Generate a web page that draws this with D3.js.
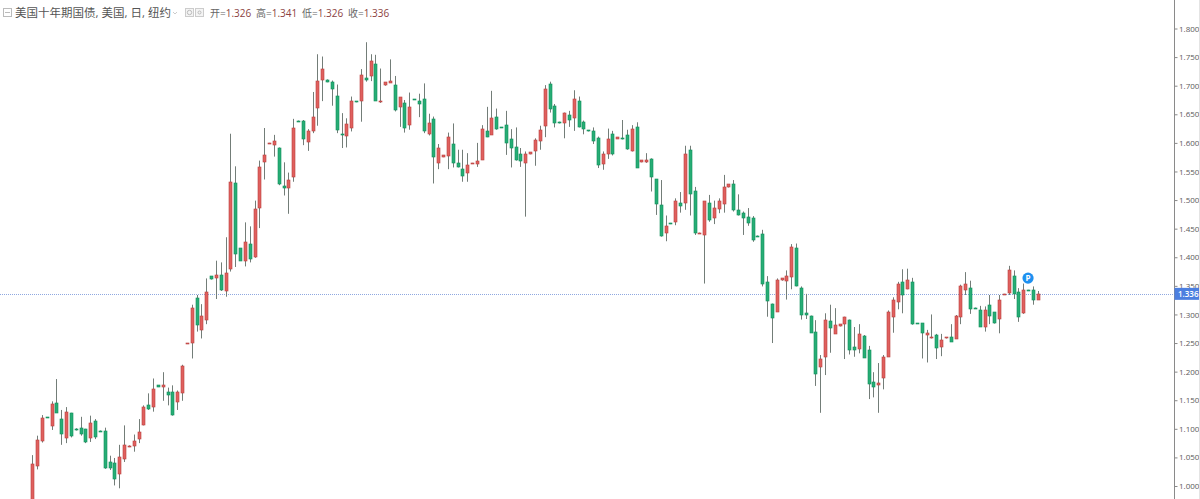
<!DOCTYPE html>
<html><head><meta charset="utf-8">
<style>html,body{margin:0;padding:0;background:#fff;overflow:hidden}svg{display:block}
text{font-family:"Open Sans","Noto Sans CJK SC",sans-serif}</style>
<script src="https://cdn.jsdelivr.net/npm/d3@7/dist/d3.min.js"></script></head><body>
<script>
const title = "美国十年期国债, 美国, 日, 纽约";
const ohlcLabels = ["开=", "高=", "低=", "收="];
const ohlcValues = ["1.326", "1.341", "1.326", "1.336"];
const tickLabels = ["1.000","1.050","1.100","1.150","1.200","1.250","1.300","1.350","1.400","1.450","1.500","1.550","1.600","1.650","1.700","1.750","1.800"];
const lastPrice = 1.336;
const opens = [
0.960,1.036,1.078,1.120,1.106,1.146,1.117,1.084,1.127,1.100,
1.101,1.099,1.084,1.113,1.097,1.096,1.042,1.040,1.022,1.047,
1.068,1.070,1.082,1.107,1.142,1.137,1.176,1.172,1.164,1.164,
1.146,1.162,1.250,1.250,1.329,1.273,1.290,1.367,1.363,1.369,
1.342,1.379,1.530,1.416,1.394,1.424,1.401,1.486,1.565,1.598,
1.597,1.591,1.525,1.521,1.541,1.639,1.638,1.602,1.621,1.660,
1.710,1.710,1.707,1.682,1.616,1.612,1.626,1.673,1.672,1.714,
1.717,1.738,1.671,1.700,1.706,1.701,1.663,1.670,1.632,1.676,
1.674,1.676,1.614,1.641,1.564,1.575,1.578,1.598,1.565,1.555,
1.547,1.564,1.563,1.570,1.621,1.614,1.646,1.627,1.631,1.606,
1.592,1.581,1.565,1.580,1.586,1.602,1.630,1.703,1.665,1.636,
1.635,1.648,1.642,1.673,1.636,1.622,1.621,1.608,1.564,1.581,
1.615,1.607,1.609,1.614,1.586,1.628,1.566,1.567,1.571,1.536,
1.491,1.441,1.460,1.462,1.494,1.495,1.588,1.515,1.442,1.439,
1.494,1.468,1.485,1.494,1.522,1.528,1.483,1.477,1.470,1.469,
1.438,1.440,1.356,1.319,1.305,1.359,1.360,1.365,1.416,1.347,
1.302,1.298,1.270,1.208,1.226,1.288,1.266,1.279,1.282,1.290,
1.243,1.239,1.263,1.237,1.181,1.176,1.190,1.226,1.296,1.322,
1.356,1.345,1.356,1.285,1.285,1.263,1.259,1.264,1.242,1.258,
1.260,1.257,1.295,1.343,1.347,1.312,1.308,1.279,1.317,1.304,
1.292,1.334,1.336,1.368,1.339,1.303,1.343,1.342,1.326];
const closes = [
1.039,1.081,1.119,1.119,1.144,1.128,1.090,1.129,1.086,1.098,
1.091,1.076,1.110,1.085,1.096,1.031,1.032,1.012,1.051,1.071,
1.070,1.078,1.094,1.139,1.135,1.169,1.173,1.176,1.159,1.123,
1.164,1.210,1.250,1.311,1.282,1.297,1.339,1.362,1.369,1.342,
1.373,1.531,1.406,1.394,1.427,1.397,1.485,1.557,1.578,1.600,
1.604,1.528,1.521,1.535,1.626,1.638,1.607,1.621,1.646,1.708,
1.730,1.707,1.694,1.623,1.614,1.633,1.674,1.672,1.718,1.710,
1.744,1.674,1.673,1.706,1.709,1.658,1.680,1.626,1.663,1.675,
1.669,1.620,1.634,1.575,1.591,1.578,1.611,1.565,1.558,1.542,
1.561,1.565,1.568,1.625,1.611,1.643,1.625,1.626,1.600,1.591,
1.570,1.569,1.580,1.584,1.605,1.622,1.694,1.659,1.635,1.634,
1.652,1.640,1.676,1.628,1.623,1.620,1.603,1.560,1.581,1.607,
1.580,1.610,1.607,1.589,1.625,1.557,1.570,1.570,1.539,1.493,
1.437,1.454,1.458,1.498,1.489,1.581,1.511,1.442,1.443,1.498,
1.465,1.486,1.499,1.523,1.528,1.482,1.475,1.468,1.459,1.430,
1.436,1.352,1.322,1.294,1.361,1.363,1.368,1.418,1.349,1.300,
1.299,1.268,1.197,1.222,1.291,1.276,1.281,1.283,1.295,1.238,
1.238,1.265,1.225,1.178,1.173,1.180,1.226,1.305,1.326,1.354,
1.334,1.361,1.283,1.284,1.268,1.267,1.260,1.242,1.255,1.260,
1.252,1.297,1.350,1.354,1.310,1.310,1.279,1.308,1.298,1.284,
1.325,1.335,1.377,1.336,1.296,1.343,1.341,1.325,1.336];
const highs = [
1.054,1.088,1.124,1.120,1.148,1.187,1.133,1.138,1.128,1.101,
1.121,1.100,1.123,1.117,1.097,1.102,1.053,1.049,1.072,1.106,
1.071,1.090,1.117,1.141,1.162,1.188,1.176,1.199,1.172,1.176,
1.167,1.212,1.250,1.317,1.334,1.318,1.363,1.367,1.394,1.391,
1.435,1.616,1.559,1.416,1.461,1.454,1.499,1.569,1.626,1.600,
1.614,1.592,1.566,1.548,1.642,1.639,1.640,1.624,1.689,1.755,
1.751,1.711,1.709,1.702,1.652,1.643,1.681,1.673,1.729,1.776,
1.755,1.754,1.730,1.706,1.746,1.717,1.680,1.675,1.688,1.676,
1.686,1.704,1.651,1.646,1.598,1.578,1.618,1.634,1.588,1.588,
1.582,1.565,1.600,1.631,1.663,1.691,1.660,1.627,1.656,1.624,
1.627,1.591,1.585,1.584,1.608,1.630,1.701,1.707,1.668,1.637,
1.653,1.656,1.692,1.681,1.639,1.622,1.627,1.611,1.585,1.625,
1.621,1.610,1.640,1.623,1.631,1.636,1.570,1.582,1.573,1.536,
1.535,1.473,1.460,1.503,1.514,1.595,1.595,1.523,1.443,1.498,
1.509,1.499,1.503,1.544,1.528,1.535,1.510,1.480,1.486,1.472,
1.438,1.448,1.367,1.319,1.363,1.363,1.377,1.423,1.424,1.349,
1.336,1.298,1.290,1.229,1.302,1.317,1.311,1.283,1.296,1.291,
1.278,1.283,1.264,1.245,1.199,1.215,1.229,1.307,1.330,1.357,
1.379,1.380,1.364,1.285,1.285,1.273,1.300,1.266,1.266,1.260,
1.283,1.299,1.352,1.374,1.359,1.312,1.315,1.314,1.334,1.304,
1.334,1.336,1.385,1.377,1.346,1.354,1.343,1.349,1.341];
const lows = [
0.950,1.029,1.076,1.119,1.098,1.128,1.072,1.075,1.085,1.097,
1.088,1.075,1.077,1.082,1.096,1.030,1.028,1.001,0.996,1.042,
1.068,1.060,1.075,1.106,1.133,1.130,1.173,1.149,1.141,1.123,
1.133,1.149,1.249,1.223,1.270,1.258,1.283,1.361,1.327,1.341,
1.331,1.375,1.383,1.394,1.384,1.391,1.399,1.451,1.536,1.598,
1.576,1.526,1.508,1.476,1.532,1.638,1.596,1.586,1.617,1.630,
1.673,1.706,1.665,1.617,1.591,1.592,1.620,1.671,1.637,1.707,
1.708,1.674,1.670,1.700,1.705,1.655,1.628,1.618,1.623,1.675,
1.645,1.617,1.613,1.529,1.554,1.575,1.554,1.557,1.557,1.532,
1.532,1.564,1.558,1.570,1.610,1.614,1.623,1.626,1.579,1.557,
1.569,1.558,1.471,1.580,1.560,1.588,1.610,1.653,1.627,1.634,
1.608,1.628,1.621,1.627,1.615,1.620,1.598,1.556,1.553,1.572,
1.578,1.607,1.606,1.588,1.585,1.557,1.566,1.565,1.515,1.474,
1.436,1.428,1.458,1.456,1.478,1.483,1.473,1.439,1.442,1.354,
1.462,1.458,1.477,1.478,1.522,1.480,1.473,1.439,1.455,1.427,
1.436,1.349,1.296,1.250,1.305,1.359,1.326,1.344,1.349,1.291,
1.292,1.268,1.175,1.128,1.194,1.233,1.266,1.279,1.222,1.230,
1.226,1.232,1.225,1.152,1.155,1.128,1.169,1.226,1.268,1.309,
1.302,1.344,1.282,1.284,1.223,1.216,1.258,1.222,1.227,1.258,
1.252,1.257,1.283,1.334,1.301,1.310,1.278,1.270,1.283,1.284,
1.267,1.334,1.334,1.327,1.287,1.301,1.341,1.317,1.326];

const W = 1200, H = 499;
const UP_FILL = "#e0605e", UP_STROKE = "#b8403f", DOWN_FILL = "#27ad75", DOWN_STROKE = "#108f5a", WICK = "#737d78";
const axisX = 1174.5;

const svg = d3.select("body").append("svg").attr("width", W).attr("height", H);
const x = d3.scaleLinear().domain([0, opens.length - 1]).range([32.3, 1037.7]);
const y = d3.scaleLinear().domain([1.0, 1.8]).range([486, 28.5]);
const crisp = v => Math.round(v) + 0.5;

svg.append("defs").append("clipPath").attr("id", "plot").append("rect")
  .attr("width", axisX).attr("height", H);

svg.append("line").attr("x1", 0).attr("x2", axisX)
  .attr("y1", crisp(y(lastPrice))).attr("y2", crisp(y(lastPrice)))
  .attr("stroke", "#8fa8e0").attr("stroke-dasharray", "1 1");

const idx = d3.range(opens.length);
const marks = svg.append("g").attr("clip-path", "url(#plot)");
marks.selectAll("line.wick").data(idx).join("line").attr("class", "wick")
  .attr("x1", i => crisp(x(i))).attr("x2", i => crisp(x(i)))
  .attr("y1", i => y(highs[i])).attr("y2", i => y(lows[i]))
  .attr("stroke", WICK).attr("stroke-width", 1);
marks.selectAll("rect.body").data(idx).join("rect").attr("class", "body")
  .attr("x", i => Math.round(x(i)) - 1)
  .attr("width", 3)
  .attr("y", i => Math.round(y(Math.max(opens[i], closes[i]))))
  .attr("height", i => Math.max(1, Math.round(Math.abs(y(opens[i]) - y(closes[i])))))
  .attr("fill", i => closes[i] >= opens[i] ? UP_FILL : DOWN_FILL)
  .attr("stroke", i => closes[i] >= opens[i] ? UP_STROKE : DOWN_STROKE)
  .attr("stroke-width", 0.6);

const axis = d3.axisRight(y)
  .tickValues(tickLabels.map(Number))
  .tickFormat(d3.format(".3f")).tickSize(3).tickPadding(1.5);
const gAxis = svg.append("g").attr("transform", `translate(${axisX},0)`).call(axis);
gAxis.select(".domain").remove();
gAxis.selectAll("line").attr("stroke", "#888");
gAxis.selectAll("text").attr("font-size", 8).attr("fill", "#5a5a5a");
svg.append("line").attr("x1", axisX).attr("x2", axisX).attr("y1", 0).attr("y2", H).attr("stroke", "#8a8a8a");
svg.append("line").attr("x1", 1199.5).attr("x2", 1199.5).attr("y1", 0).attr("y2", H).attr("stroke", "#e4e4e4");

const tag = svg.append("g").attr("transform", `translate(${axisX},${y(lastPrice)})`);
tag.append("rect").attr("x", 0).attr("y", -6).attr("width", 24.5).attr("height", 12).attr("fill", "#4c7fe0");
tag.append("text").attr("x", 3.5).attr("y", 3).attr("font-size", 8).attr("fill", "#fff").attr("font-weight", 600).text(d3.format(".3f")(lastPrice));

const bubble = svg.append("g").attr("transform", `translate(${x(206)},${y(1.3635)})`);
bubble.append("circle").attr("r", 5.6).attr("fill", "#1e90f0");
bubble.append("text").attr("text-anchor", "middle").attr("y", 2.8).attr("font-size", 8).attr("font-weight", 700).attr("fill", "#fff").text("P");

const head = svg.append("g");
head.append("rect").attr("x", 3.5).attr("y", 8.5).attr("width", 8).attr("height", 8).attr("fill", "none").attr("stroke", "#bbb");
head.append("line").attr("x1", 5).attr("x2", 10).attr("y1", 12.5).attr("y2", 12.5).attr("stroke", "#bbb");
head.append("text").attr("x", 15).attr("y", 16.5).attr("font-size", 11.5).attr("fill", "#555").text(title);
head.append("path").attr("d", d3.line()([[173,12],[175,14],[177,12]])).attr("fill", "none").attr("stroke", "#ccc");
[185, 195].forEach((bx, k) => {
  head.append("rect").attr("x", bx + .5).attr("y", 8.5).attr("width", 8).attr("height", 8).attr("fill", "#f4f4f4").attr("stroke", "#ccc");
  head.append("circle").attr("cx", bx + 4.5).attr("cy", 12.5).attr("r", k ? 1.5 : 2.2).attr("fill", "none").attr("stroke", "#bbb");
});
const ohlcX = d3.scalePoint().domain(d3.range(4)).range([210, 348]);
ohlcLabels.forEach((lab, k) => {
  const t = head.append("text").attr("x", ohlcX(k)).attr("y", 16.5).attr("font-size", 10).attr("fill", "#666");
  t.append("tspan").text(lab);
  t.append("tspan").attr("fill", "#8c3f3f").text(ohlcValues[k]);
});
</script></body></html>
